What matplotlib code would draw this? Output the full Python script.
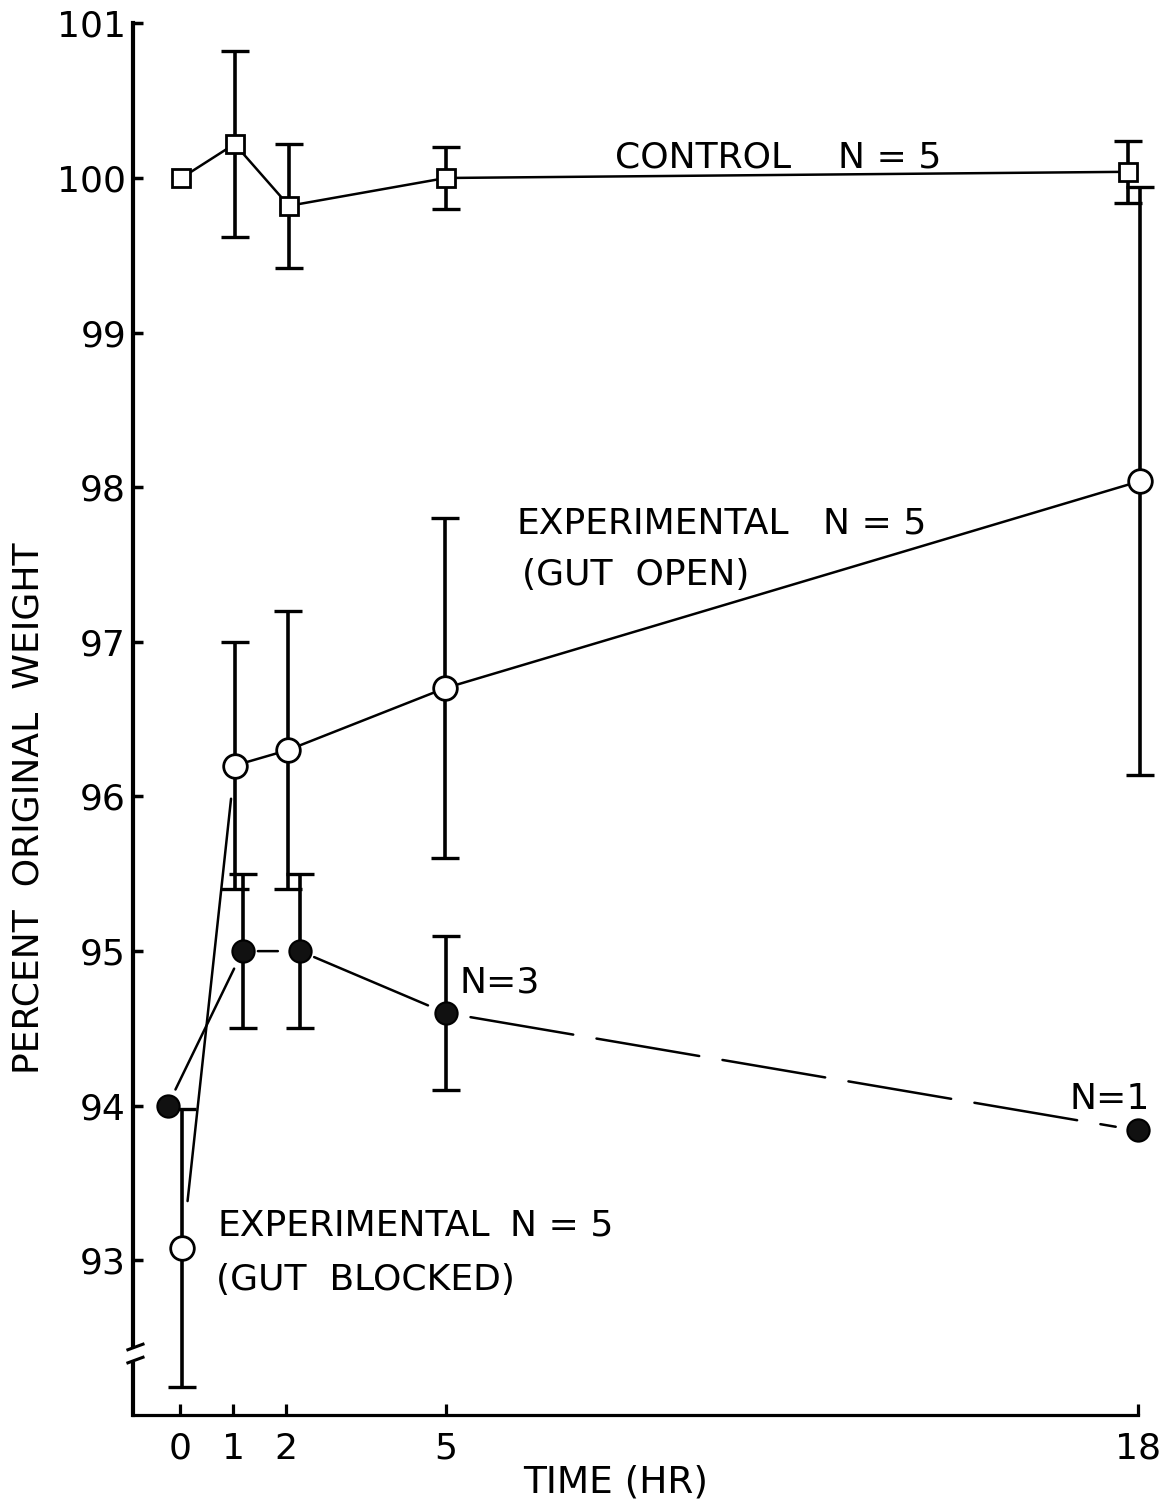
import matplotlib
matplotlib.use("Agg")
import matplotlib.pyplot as plt

plt.rcParams['font.family'] = ['DejaVu Sans']
plt.rcParams['lines.scale_dashes'] = False

# time (hr) at which each point is plotted; some are nudged sideways so they don't overlap
control_t = [0.03, 1.03, 2.05, 5.0, 17.82]
control_v = [100.0, 100.22, 99.82, 100.0, 100.04]
control_err = [0.0, 0.6, 0.4, 0.2, 0.2]

open_t = [0.05, 1.03, 2.03, 4.98, 18.05]
open_v = [93.08, 96.2, 96.3, 96.7, 98.04]
open_err = [0.9, 0.8, 0.9, 1.1, 1.9]

blocked_t = [-0.23, 1.18, 2.26, 5.0, 18.0]
blocked_v = [94.0, 95.0, 95.0, 94.6, 93.84]
blocked_err = [0.0, 0.5, 0.5, 0.5, 0.0]

xticks = [0, 1, 2, 5, 18]
yticks = [93, 94, 95, 96, 97, 98, 99, 100, 101]

fig = plt.figure(figsize=(11.6, 15.12), dpi=100)
ax = fig.add_axes([0.11466, 0.06415, 0.8798, 0.9204])
ax.set_xlim(-0.88, 18.3)
ax.set_ylim(92, 101)

for s in ['top', 'right']:
    ax.spines[s].set_visible(False)
ax.spines['left'].set_linewidth(3)
ax.spines['bottom'].set_linewidth(2.3)
ax.spines['bottom'].set_bounds(-0.88, 18)

ax.set_xticks(xticks)
ax.set_xticklabels([str(t) for t in xticks])
ax.set_yticks(yticks)
ax.set_yticklabels([str(v) for v in yticks])
ax.tick_params(axis='x', direction='in', length=8, width=2.3, pad=12, labelsize=26)
ax.tick_params(axis='y', direction='in', length=7, width=2.5, pad=5, labelsize=26)

ebkw = dict(fmt='none', ecolor='black', elinewidth=2.6, capsize=10, capthick=2.4, zorder=2)

# control
ax.errorbar(control_t[1:], control_v[1:], yerr=control_err[1:], **ebkw)
ax.plot(control_t, control_v, color='black', lw=1.8, zorder=3)
ax.plot(control_t, control_v, ls='none', marker='s', ms=13, mfc='white',
        mec='black', mew=2, zorder=5)

# experimental, gut open
ax.errorbar(open_t, open_v, yerr=open_err, **ebkw)
ax.plot(open_t[1:], open_v[1:], color='black', lw=1.8, zorder=3)
ax.annotate('', xy=(open_t[1], open_v[1]), xytext=(open_t[0], open_v[0]),
            arrowprops=dict(arrowstyle='-', color='black', lw=1.8,
                            shrinkA=34, shrinkB=24), zorder=3)
ax.plot(open_t, open_v, ls='none', marker='o', ms=17, mfc='white',
        mec='black', mew=2, zorder=5)

# experimental, gut blocked
ax.errorbar(blocked_t[1:4], blocked_v[1:4], yerr=blocked_err[1:4], **ebkw)
gaps = [(13, 14), (11, 16), (11, 14), (18, 16)]
styles = ['-', '-', '-', (0, (75, 17))]
for i in range(4):
    ax.annotate('', xy=(blocked_t[i + 1], blocked_v[i + 1]),
                xytext=(blocked_t[i], blocked_v[i]),
                arrowprops=dict(arrowstyle='-', color='black', lw=1.8,
                                linestyle=styles[i],
                                shrinkA=gaps[i][0], shrinkB=gaps[i][1]),
                zorder=3)
ax.plot(blocked_t, blocked_v, ls='none', marker='o', ms=16, mfc='#111111',
        mec='black', mew=1.5, zorder=5)

# labels on the plot
fs = 26
ax.text(8.18, 100.065, 'CONTROL', fontsize=fs, va='baseline')
ax.text(12.37, 100.065, 'N = 5', fontsize=fs, va='baseline')
ax.text(6.33, 97.70, 'EXPERIMENTAL', fontsize=fs, va='baseline')
ax.text(12.09, 97.70, 'N = 5', fontsize=fs, va='baseline')
ax.text(6.43, 97.37, '(GUT  OPEN)', fontsize=fs, va='baseline')
ax.text(0.70, 93.16, 'EXPERIMENTAL', fontsize=fs, va='baseline')
ax.text(6.2, 93.16, 'N = 5', fontsize=fs, va='baseline')
ax.text(0.68, 92.81, '(GUT  BLOCKED)', fontsize=fs, va='baseline')
ax.text(5.26, 94.73, 'N=3', fontsize=fs, va='baseline')
ax.text(16.72, 93.98, 'N=1', fontsize=fs, va='baseline')

# break marks on the y axis
ax.plot([0, 0], [0.041, 0.047], transform=ax.transAxes, color='white',
        lw=5, zorder=4, clip_on=False)
for yb in [0.0395, 0.0489]:
    ax.plot([-0.005, 0.0098], [yb - 0.002, yb + 0.002], transform=ax.transAxes,
            color='black', lw=2.2, zorder=4, clip_on=False)

fig.text(29 / 1160, 1 - 808 / 1512, 'PERCENT  ORIGINAL  WEIGHT', rotation=90,
         fontsize=26, ha='center', va='center')
fig.text(616 / 1160, 1 - 1483 / 1512, 'TIME (HR)', fontsize=27,
         ha='center', va='center')

fig.savefig('out.png', dpi=100)
